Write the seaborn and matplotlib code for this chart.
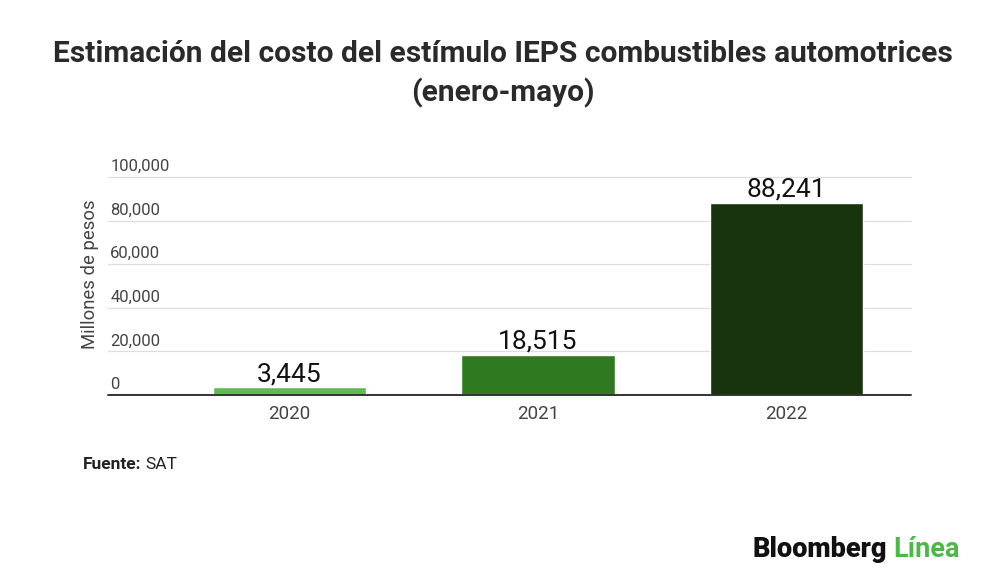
import matplotlib
matplotlib.use("Agg")
import matplotlib.pyplot as plt
import matplotlib.transforms as mtransforms
import seaborn as sns
import pandas as pd

years = ["2020", "2021", "2022"]
values = [3445, 18515, 88241]
bar_colors = ["#5fba52", "#2f7a21", "#17340f"]
ytick_values = [0, 20000, 40000, 60000, 80000, 100000]
ytick_labels = ["0", "20,000", "40,000", "60,000", "80,000", "100,000"]

title = "Estimación del costo del estímulo IEPS combustibles automotrices\n(enero-mayo)"
ylabel = "Millones de pesos"

sns.set_theme(style="white")
plt.rcParams["font.family"] = ["Roboto", "DejaVu Sans"]

df = pd.DataFrame({"year": years, "value": values})

fig = plt.figure(figsize=(10, 5.83), dpi=100)
ax = fig.add_axes([0.165, 0.3225, 0.746, 0.374])

sns.barplot(data=df, x="year", y="value", hue="year", palette=bar_colors,
            width=0.616, legend=False, ax=ax, saturation=1, zorder=3)

ax.set_ylim(0, 100000)
ax.set_xlim(-0.5, 2.5)
for s in ax.spines.values():
    s.set_visible(False)

# gridlines extending under the labels
ext = (108 - 165) / 746
for v in ytick_values[1:]:
    ax.axhline(v, xmin=ext, xmax=1.0, color="#dedede", lw=0.9, clip_on=False, zorder=1)
ax.axhline(0, xmin=ext, xmax=1.0, color="#333333", lw=1.4, clip_on=False, zorder=4)

ax.set_yticks([])
trans = mtransforms.blended_transform_factory(ax.transAxes, ax.transData)
for v, lab in zip(ytick_values, ytick_labels):
    ax.text(ext + 0.003, v + 1300, lab, transform=trans, ha="left", va="bottom",
            fontsize=12, color="#444444")

ax.set_xlabel("")
ax.set_ylabel("")
ax.tick_params(axis="x", length=0, pad=7, labelsize=13.5, labelcolor="#444444")

for c in ax.containers:
    ax.bar_label(c, labels=[f"{int(round(v)):,}" for v in c.datavalues], padding=1,
                 fontsize=19, color="#111111")

fig.text(0.09, 0.530, ylabel, rotation=90, ha="center", va="center",
         fontsize=13.3, color="#444444")

fig.text(0.503, 0.873, title, ha="center", va="center", fontsize=21.5,
         fontweight="bold", color="#2a2a2a", linespacing=1.45)

t1 = fig.text(0.083, 0.204, "Fuente:", ha="left", va="center", fontsize=12.5,
              fontweight="bold", color="#222222")
fig.canvas.draw()
bb = t1.get_window_extent()
fig.text(bb.x1 / 1000 + 0.004, 0.204, "SAT", ha="left", va="center", fontsize=12.5,
         color="#222222")

t2 = fig.text(0.752, 0.058, "Bloomberg", ha="left", va="center", fontsize=19.5,
              fontweight="black", color="#111111")
fig.canvas.draw()
bb2 = t2.get_window_extent()
fig.text(bb2.x1 / 1000 + 0.007, 0.058, "Línea", ha="left", va="center", fontsize=19.5,
         fontweight="bold", color="#4cb848")

fig.savefig("out.png", dpi=100, facecolor="white")
